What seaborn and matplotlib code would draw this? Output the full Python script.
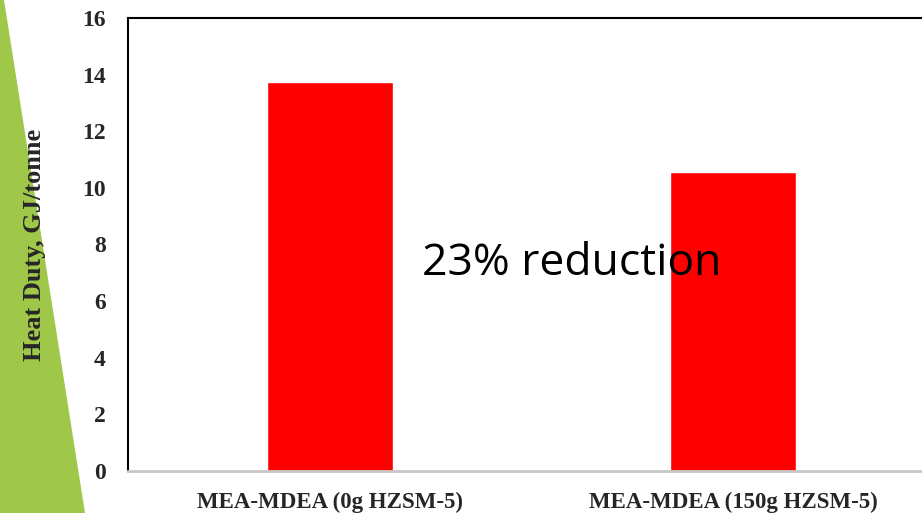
import matplotlib
matplotlib.use("Agg")
import matplotlib.pyplot as plt
from matplotlib.patches import Polygon
import seaborn as sns
import pandas as pd

# Heat duty of the blended amine with and without HZSM-5 catalyst
categories = ["MEA-MDEA (0g HZSM-5)", "MEA-MDEA (150g HZSM-5)"]
heat_duty = [13.75, 10.55]
y_ticks = [0, 2, 4, 6, 8, 10, 12, 14, 16]
note = "23% reduction"

df = pd.DataFrame({"case": categories, "duty": heat_duty})

sns.set_theme(style="white")
plt.rcParams["font.family"] = ["Liberation Serif", "DejaVu Serif"]

fig = plt.figure(figsize=(9.22, 5.13), dpi=100)
fig.patch.set_facecolor("white")

# green slide accent on the left edge, kept beneath the axes and labels
accent = Polygon([(0, 1), (4 / 922, 1), (85 / 922, 0), (0, 0)], closed=True,
                 transform=fig.transFigure, facecolor="#9FC84A", edgecolor="none",
                 zorder=-5)
fig.patches.append(accent)

ax = fig.add_axes([128 / 922, 42 / 513, 807 / 922, 453 / 513])
ax.set_facecolor("none")

sns.barplot(data=df, x="case", y="duty", color="#FF0000", saturation=1,
            width=0.312, ax=ax, zorder=2)

ax.set_xlim(-0.5, 1.5)
ax.set_ylim(0, 16)
ax.set_yticks(y_ticks)
ax.set_yticklabels([str(t) for t in y_ticks], fontsize=17, fontweight="bold")
ax.set_xticks(range(len(categories)))
ax.set_xticklabels(categories, fontsize=16.5, fontweight="bold")
ax.tick_params(axis="both", length=0)
ax.tick_params(axis="y", pad=16)
ax.tick_params(axis="x", pad=15)
ax.set_xlabel("")
ax.set_ylabel("Heat Duty, GJ/tonne", fontsize=19, fontweight="bold")
ax.yaxis.set_label_coords(-82 / 807, 0.5)
ax.grid(False)

for side in ("left", "top"):
    ax.spines[side].set_color("black")
    ax.spines[side].set_linewidth(1.5)
ax.spines["bottom"].set_color("#C8C8C8")
ax.spines["bottom"].set_linewidth(2)
ax.spines["right"].set_visible(False)

fig.text(422 / 922, 238 / 513, note, fontsize=32, family=["Open Sans", "DejaVu Sans"],
         color="black", ha="left", va="baseline", zorder=5)

fig.savefig("out.png", dpi=100)
